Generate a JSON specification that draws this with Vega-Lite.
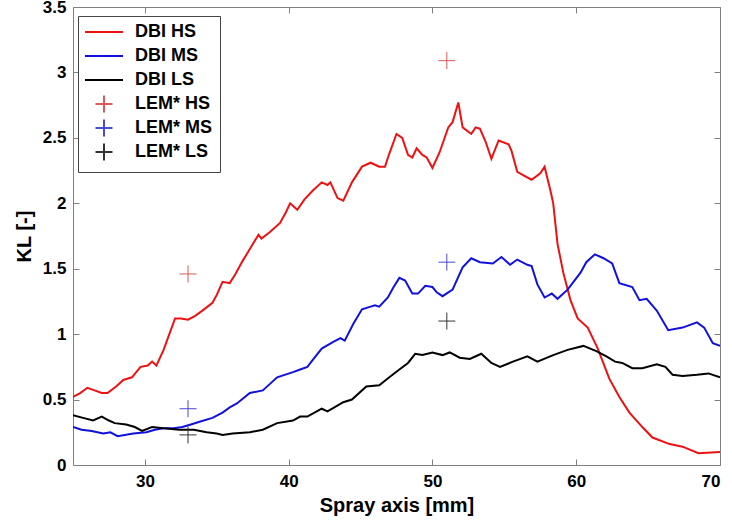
{
  "$schema": "https://vega.github.io/schema/vega-lite/v6.json",
  "width": 647,
  "height": 458,
  "autosize": "none",
  "padding": {"left": 73, "top": 7, "right": 12, "bottom": 57},
  "background": "white",
  "config": {
    "font": "Liberation Sans",
    "view": {"stroke": "#808080", "strokeWidth": 1},
    "axis": {
      "grid": false,
      "domainColor": "#808080",
      "tickColor": "#808080",
      "labelFont": "Liberation Sans",
      "labelFontWeight": "bold",
      "labelFontSize": 17,
      "labelColor": "black",
      "titleFont": "Liberation Sans",
      "titleFontWeight": "bold",
      "titleFontSize": 20,
      "titleColor": "black"
    }
  },
  "layer": [
    {
      "data": {"values": [
        {"x":25,"y":0.52,"s":"DBI HS"},{"x":25.5,"y":0.55,"s":"DBI HS"},{"x":26.0,"y":0.59,"s":"DBI HS"},{"x":26.5,"y":0.57,"s":"DBI HS"},{"x":27.0,"y":0.55,"s":"DBI HS"},{"x":27.4,"y":0.55,"s":"DBI HS"},{"x":28.0,"y":0.6,"s":"DBI HS"},{"x":28.5,"y":0.65,"s":"DBI HS"},{"x":29.1,"y":0.67,"s":"DBI HS"},{"x":29.7,"y":0.75,"s":"DBI HS"},{"x":30.2,"y":0.76,"s":"DBI HS"},{"x":30.5,"y":0.79,"s":"DBI HS"},{"x":30.8,"y":0.76,"s":"DBI HS"},{"x":31.3,"y":0.88,"s":"DBI HS"},{"x":31.7,"y":1.0,"s":"DBI HS"},{"x":32.1,"y":1.12,"s":"DBI HS"},{"x":32.5,"y":1.12,"s":"DBI HS"},{"x":33.0,"y":1.11,"s":"DBI HS"},{"x":33.5,"y":1.14,"s":"DBI HS"},{"x":34.0,"y":1.18,"s":"DBI HS"},{"x":34.7,"y":1.24,"s":"DBI HS"},{"x":35.0,"y":1.3,"s":"DBI HS"},{"x":35.4,"y":1.40,"s":"DBI HS"},{"x":35.9,"y":1.39,"s":"DBI HS"},{"x":36.3,"y":1.46,"s":"DBI HS"},{"x":36.8,"y":1.56,"s":"DBI HS"},{"x":37.3,"y":1.65,"s":"DBI HS"},{"x":37.9,"y":1.76,"s":"DBI HS"},{"x":38.1,"y":1.73,"s":"DBI HS"},{"x":38.7,"y":1.78,"s":"DBI HS"},{"x":39.4,"y":1.85,"s":"DBI HS"},{"x":39.8,"y":1.93,"s":"DBI HS"},{"x":40.1,"y":2.0,"s":"DBI HS"},{"x":40.6,"y":1.95,"s":"DBI HS"},{"x":41.1,"y":2.03,"s":"DBI HS"},{"x":41.7,"y":2.10,"s":"DBI HS"},{"x":42.3,"y":2.16,"s":"DBI HS"},{"x":42.7,"y":2.14,"s":"DBI HS"},{"x":42.9,"y":2.16,"s":"DBI HS"},{"x":43.4,"y":2.04,"s":"DBI HS"},{"x":43.8,"y":2.02,"s":"DBI HS"},{"x":44.4,"y":2.16,"s":"DBI HS"},{"x":45.1,"y":2.28,"s":"DBI HS"},{"x":45.7,"y":2.31,"s":"DBI HS"},{"x":46.3,"y":2.28,"s":"DBI HS"},{"x":46.7,"y":2.28,"s":"DBI HS"},{"x":47.0,"y":2.38,"s":"DBI HS"},{"x":47.5,"y":2.53,"s":"DBI HS"},{"x":47.9,"y":2.50,"s":"DBI HS"},{"x":48.3,"y":2.37,"s":"DBI HS"},{"x":48.6,"y":2.35,"s":"DBI HS"},{"x":48.9,"y":2.42,"s":"DBI HS"},{"x":49.3,"y":2.37,"s":"DBI HS"},{"x":49.6,"y":2.35,"s":"DBI HS"},{"x":50.0,"y":2.27,"s":"DBI HS"},{"x":50.5,"y":2.39,"s":"DBI HS"},{"x":51.1,"y":2.58,"s":"DBI HS"},{"x":51.4,"y":2.62,"s":"DBI HS"},{"x":51.8,"y":2.77,"s":"DBI HS"},{"x":52.1,"y":2.58,"s":"DBI HS"},{"x":52.7,"y":2.53,"s":"DBI HS"},{"x":53.0,"y":2.58,"s":"DBI HS"},{"x":53.3,"y":2.57,"s":"DBI HS"},{"x":53.7,"y":2.47,"s":"DBI HS"},{"x":54.1,"y":2.34,"s":"DBI HS"},{"x":54.6,"y":2.48,"s":"DBI HS"},{"x":55.3,"y":2.45,"s":"DBI HS"},{"x":55.5,"y":2.40,"s":"DBI HS"},{"x":55.9,"y":2.24,"s":"DBI HS"},{"x":56.4,"y":2.21,"s":"DBI HS"},{"x":56.9,"y":2.18,"s":"DBI HS"},{"x":57.5,"y":2.23,"s":"DBI HS"},{"x":57.8,"y":2.28,"s":"DBI HS"},{"x":58.2,"y":2.10,"s":"DBI HS"},{"x":58.4,"y":2.0,"s":"DBI HS"},{"x":58.7,"y":1.69,"s":"DBI HS"},{"x":59.1,"y":1.47,"s":"DBI HS"},{"x":59.6,"y":1.26,"s":"DBI HS"},{"x":60.1,"y":1.12,"s":"DBI HS"},{"x":60.8,"y":1.05,"s":"DBI HS"},{"x":61.5,"y":0.89,"s":"DBI HS"},{"x":62.3,"y":0.66,"s":"DBI HS"},{"x":63.0,"y":0.52,"s":"DBI HS"},{"x":63.7,"y":0.40,"s":"DBI HS"},{"x":64.6,"y":0.29,"s":"DBI HS"},{"x":65.3,"y":0.21,"s":"DBI HS"},{"x":66.5,"y":0.16,"s":"DBI HS"},{"x":67.4,"y":0.14,"s":"DBI HS"},{"x":68.5,"y":0.09,"s":"DBI HS"},{"x":70.0,"y":0.10,"s":"DBI HS"},
        {"x":25,"y":0.29,"s":"DBI MS"},{"x":25.6,"y":0.27,"s":"DBI MS"},{"x":26.3,"y":0.26,"s":"DBI MS"},{"x":27.1,"y":0.24,"s":"DBI MS"},{"x":27.6,"y":0.25,"s":"DBI MS"},{"x":28.1,"y":0.22,"s":"DBI MS"},{"x":28.6,"y":0.23,"s":"DBI MS"},{"x":29.2,"y":0.24,"s":"DBI MS"},{"x":30.1,"y":0.25,"s":"DBI MS"},{"x":30.7,"y":0.27,"s":"DBI MS"},{"x":31.3,"y":0.28,"s":"DBI MS"},{"x":32.0,"y":0.28,"s":"DBI MS"},{"x":32.6,"y":0.29,"s":"DBI MS"},{"x":33.2,"y":0.31,"s":"DBI MS"},{"x":33.8,"y":0.33,"s":"DBI MS"},{"x":34.7,"y":0.36,"s":"DBI MS"},{"x":35.4,"y":0.40,"s":"DBI MS"},{"x":35.9,"y":0.44,"s":"DBI MS"},{"x":36.4,"y":0.47,"s":"DBI MS"},{"x":37.3,"y":0.55,"s":"DBI MS"},{"x":38.2,"y":0.57,"s":"DBI MS"},{"x":38.7,"y":0.62,"s":"DBI MS"},{"x":39.2,"y":0.67,"s":"DBI MS"},{"x":40.3,"y":0.71,"s":"DBI MS"},{"x":40.8,"y":0.73,"s":"DBI MS"},{"x":41.3,"y":0.75,"s":"DBI MS"},{"x":41.8,"y":0.82,"s":"DBI MS"},{"x":42.3,"y":0.89,"s":"DBI MS"},{"x":43.1,"y":0.94,"s":"DBI MS"},{"x":43.6,"y":0.97,"s":"DBI MS"},{"x":43.9,"y":0.95,"s":"DBI MS"},{"x":44.5,"y":1.08,"s":"DBI MS"},{"x":45.1,"y":1.19,"s":"DBI MS"},{"x":45.7,"y":1.21,"s":"DBI MS"},{"x":46.0,"y":1.22,"s":"DBI MS"},{"x":46.3,"y":1.21,"s":"DBI MS"},{"x":46.9,"y":1.28,"s":"DBI MS"},{"x":47.3,"y":1.36,"s":"DBI MS"},{"x":47.7,"y":1.43,"s":"DBI MS"},{"x":48.1,"y":1.41,"s":"DBI MS"},{"x":48.6,"y":1.31,"s":"DBI MS"},{"x":49.0,"y":1.31,"s":"DBI MS"},{"x":49.5,"y":1.37,"s":"DBI MS"},{"x":50.0,"y":1.36,"s":"DBI MS"},{"x":50.3,"y":1.32,"s":"DBI MS"},{"x":50.7,"y":1.29,"s":"DBI MS"},{"x":51.4,"y":1.34,"s":"DBI MS"},{"x":52.1,"y":1.51,"s":"DBI MS"},{"x":52.7,"y":1.58,"s":"DBI MS"},{"x":53.3,"y":1.55,"s":"DBI MS"},{"x":54.2,"y":1.54,"s":"DBI MS"},{"x":54.8,"y":1.59,"s":"DBI MS"},{"x":55.4,"y":1.53,"s":"DBI MS"},{"x":55.9,"y":1.57,"s":"DBI MS"},{"x":56.6,"y":1.53,"s":"DBI MS"},{"x":56.9,"y":1.52,"s":"DBI MS"},{"x":57.3,"y":1.38,"s":"DBI MS"},{"x":57.8,"y":1.28,"s":"DBI MS"},{"x":58.3,"y":1.31,"s":"DBI MS"},{"x":58.7,"y":1.27,"s":"DBI MS"},{"x":59.4,"y":1.34,"s":"DBI MS"},{"x":60.3,"y":1.47,"s":"DBI MS"},{"x":60.7,"y":1.55,"s":"DBI MS"},{"x":61.3,"y":1.61,"s":"DBI MS"},{"x":61.9,"y":1.58,"s":"DBI MS"},{"x":62.5,"y":1.54,"s":"DBI MS"},{"x":63.0,"y":1.39,"s":"DBI MS"},{"x":63.9,"y":1.36,"s":"DBI MS"},{"x":64.4,"y":1.26,"s":"DBI MS"},{"x":64.9,"y":1.27,"s":"DBI MS"},{"x":65.6,"y":1.18,"s":"DBI MS"},{"x":66.4,"y":1.03,"s":"DBI MS"},{"x":67.4,"y":1.05,"s":"DBI MS"},{"x":68.4,"y":1.09,"s":"DBI MS"},{"x":68.9,"y":1.05,"s":"DBI MS"},{"x":69.5,"y":0.93,"s":"DBI MS"},{"x":70.0,"y":0.91,"s":"DBI MS"},
        {"x":25,"y":0.38,"s":"DBI LS"},{"x":25.7,"y":0.36,"s":"DBI LS"},{"x":26.4,"y":0.34,"s":"DBI LS"},{"x":27.0,"y":0.37,"s":"DBI LS"},{"x":27.5,"y":0.34,"s":"DBI LS"},{"x":27.9,"y":0.32,"s":"DBI LS"},{"x":28.7,"y":0.31,"s":"DBI LS"},{"x":29.3,"y":0.29,"s":"DBI LS"},{"x":29.8,"y":0.26,"s":"DBI LS"},{"x":30.5,"y":0.29,"s":"DBI LS"},{"x":31.3,"y":0.28,"s":"DBI LS"},{"x":32.4,"y":0.27,"s":"DBI LS"},{"x":33.4,"y":0.27,"s":"DBI LS"},{"x":34.3,"y":0.25,"s":"DBI LS"},{"x":35.0,"y":0.24,"s":"DBI LS"},{"x":35.4,"y":0.23,"s":"DBI LS"},{"x":36.1,"y":0.24,"s":"DBI LS"},{"x":37.3,"y":0.25,"s":"DBI LS"},{"x":38.2,"y":0.27,"s":"DBI LS"},{"x":39.2,"y":0.32,"s":"DBI LS"},{"x":40.3,"y":0.34,"s":"DBI LS"},{"x":40.8,"y":0.37,"s":"DBI LS"},{"x":41.3,"y":0.37,"s":"DBI LS"},{"x":42.3,"y":0.43,"s":"DBI LS"},{"x":42.7,"y":0.41,"s":"DBI LS"},{"x":43.8,"y":0.48,"s":"DBI LS"},{"x":44.4,"y":0.50,"s":"DBI LS"},{"x":45.4,"y":0.60,"s":"DBI LS"},{"x":46.3,"y":0.61,"s":"DBI LS"},{"x":47.0,"y":0.67,"s":"DBI LS"},{"x":47.7,"y":0.73,"s":"DBI LS"},{"x":48.3,"y":0.78,"s":"DBI LS"},{"x":48.8,"y":0.85,"s":"DBI LS"},{"x":49.3,"y":0.84,"s":"DBI LS"},{"x":50.0,"y":0.86,"s":"DBI LS"},{"x":50.7,"y":0.84,"s":"DBI LS"},{"x":51.2,"y":0.86,"s":"DBI LS"},{"x":51.9,"y":0.82,"s":"DBI LS"},{"x":52.6,"y":0.81,"s":"DBI LS"},{"x":53.4,"y":0.85,"s":"DBI LS"},{"x":54.1,"y":0.78,"s":"DBI LS"},{"x":54.7,"y":0.75,"s":"DBI LS"},{"x":55.6,"y":0.79,"s":"DBI LS"},{"x":56.6,"y":0.83,"s":"DBI LS"},{"x":57.3,"y":0.79,"s":"DBI LS"},{"x":58.4,"y":0.84,"s":"DBI LS"},{"x":59.4,"y":0.88,"s":"DBI LS"},{"x":60.5,"y":0.91,"s":"DBI LS"},{"x":61.4,"y":0.87,"s":"DBI LS"},{"x":62.1,"y":0.83,"s":"DBI LS"},{"x":62.7,"y":0.79,"s":"DBI LS"},{"x":63.2,"y":0.78,"s":"DBI LS"},{"x":63.9,"y":0.74,"s":"DBI LS"},{"x":64.6,"y":0.74,"s":"DBI LS"},{"x":65.6,"y":0.77,"s":"DBI LS"},{"x":66.2,"y":0.75,"s":"DBI LS"},{"x":66.7,"y":0.69,"s":"DBI LS"},{"x":67.4,"y":0.68,"s":"DBI LS"},{"x":68.4,"y":0.69,"s":"DBI LS"},{"x":69.2,"y":0.70,"s":"DBI LS"},{"x":70.0,"y":0.67,"s":"DBI LS"}
      ]},
      "mark": {"type": "line", "strokeWidth": 2, "clip": true},
      "encoding": {
        "x": {"field": "x", "type": "quantitative", "scale": {"domain": [25, 70], "nice": false, "zero": false},
              "axis": {"orient": "bottom", "values": [30, 40, 50, 60, 70], "format": "d", "title": "Spray axis [mm]", "tickSize": -6, "labelPadding": 14, "titlePadding": 6, "domain": false}},
        "y": {"field": "y", "type": "quantitative", "scale": {"domain": [0, 3.5], "nice": false},
              "axis": {"orient": "left", "values": [0, 0.5, 1, 1.5, 2, 2.5, 3, 3.5], "format": "~g", "title": "KL [-]", "tickSize": -6, "labelPadding": 13, "titlePadding": 8, "domain": false}},
        "color": {"field": "s", "type": "nominal",
          "scale": {"domain": ["DBI HS", "DBI MS", "DBI LS", "LEM* HS", "LEM* MS", "LEM* LS"],
                    "range": ["#ee1111", "#1111dd", "#000000", "#d85a5a", "#4a4ad0", "#333333"]},
          "legend": {
            "title": null,
            "orient": "none",
            "legendX": 5,
            "legendY": 9,
            "direction": "vertical",
            "strokeColor": "#444444",
            "fillColor": "white",
            "padding": 7,
            "labelFont": "Liberation Sans",
            "labelFontWeight": "bold",
            "labelFontSize": 18,
            "labelColor": "black",
            "labelOffset": 22,
            "symbolOffset": 10,
            "symbolSize": 100,
            "symbolStrokeWidth": 2,
            "gridAlign": "all",
            "rowPadding": -2
          }
        }
      }
    },
    {
      "data": {"values": [
        {"x":33,"y":1.46,"s":"LEM* HS"},{"x":51,"y":3.09,"s":"LEM* HS"},
        {"x":33,"y":0.43,"s":"LEM* MS"},{"x":51,"y":1.55,"s":"LEM* MS"},
        {"x":33,"y":0.23,"s":"LEM* LS"},{"x":51,"y":1.10,"s":"LEM* LS"}
      ]},
      "mark": {"type": "point", "size": 100, "filled": false, "strokeWidth": 1, "opacity": 1},
      "encoding": {
        "x": {"field": "x", "type": "quantitative", "axis": {"orient": "top", "values": [30, 40, 50, 60, 70], "labels": false, "title": null, "tickSize": -6, "domain": false}},
        "y": {"field": "y", "type": "quantitative", "axis": {"orient": "right", "values": [0, 0.5, 1, 1.5, 2, 2.5, 3, 3.5], "labels": false, "title": null, "tickSize": -6, "domain": false}},
        "color": {"field": "s", "type": "nominal"},
        "shape": {"field": "s", "type": "nominal",
          "scale": {"domain": ["DBI HS", "DBI MS", "DBI LS", "LEM* HS", "LEM* MS", "LEM* LS"],
                    "range": ["M-3.8,0H3.8", "M-3.8,0H3.8", "M-3.8,0H3.8", "M-1.7,0H1.7M0,-1.7V1.7", "M-1.7,0H1.7M0,-1.7V1.7", "M-1.7,0H1.7M0,-1.7V1.7"]},
          "legend": null}
      }
    }
  ],
  "resolve": {"axis": {"x": "independent", "y": "independent"}}
}
